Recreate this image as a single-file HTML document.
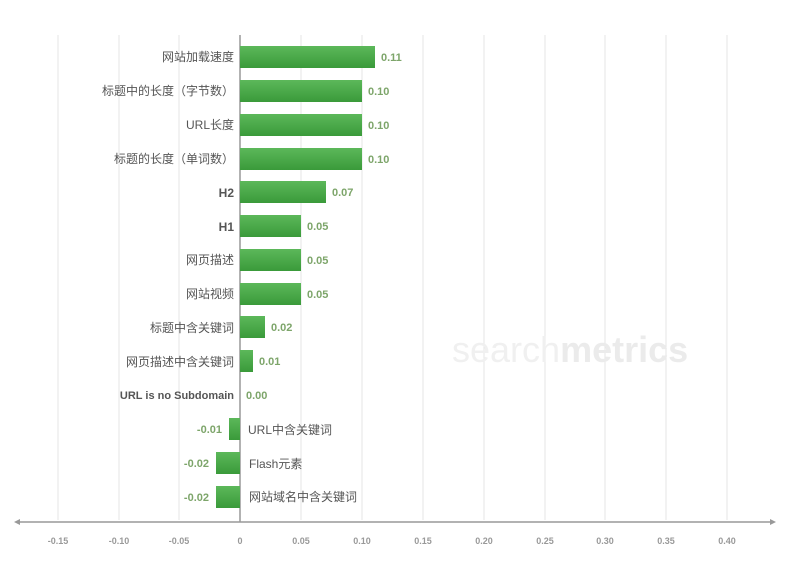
<!DOCTYPE html>
<html><head><meta charset="utf-8"><style>
body{margin:0;background:#fff;}
svg text{font-family:"Liberation Sans","Noto Sans CJK SC",sans-serif;}
</style></head><body>
<svg width="800" height="561" xmlns="http://www.w3.org/2000/svg">
<defs><linearGradient id="g" x1="0" y1="0" x2="0" y2="1"><stop offset="0" stop-color="#5cb85a"/><stop offset="1" stop-color="#3a9a3a"/></linearGradient></defs>
<g stroke="#e4e4e4" stroke-width="1">
<line x1="58" y1="35" x2="58" y2="520"/><line x1="119" y1="35" x2="119" y2="520"/><line x1="179" y1="35" x2="179" y2="520"/>
<line x1="301" y1="35" x2="301" y2="520"/><line x1="362" y1="35" x2="362" y2="520"/><line x1="423" y1="35" x2="423" y2="520"/>
<line x1="484" y1="35" x2="484" y2="520"/><line x1="545" y1="35" x2="545" y2="520"/><line x1="605" y1="35" x2="605" y2="520"/>
<line x1="666" y1="35" x2="666" y2="520"/><line x1="727" y1="35" x2="727" y2="520"/>
</g>
<text x="452" y="362" font-size="36" fill="#f0f0f0">search<tspan fill="#ebebeb" font-weight="bold">metrics</tspan></text>
<line x1="240" y1="35" x2="240" y2="522" stroke="#999" stroke-width="1.5"/>
<line x1="17" y1="522" x2="773" y2="522" stroke="#999" stroke-width="1.5"/>
<polygon points="14,522 20,519 20,525" fill="#999"/><polygon points="776,522 770,519 770,525" fill="#999"/>
<g fill="url(#g)">
<rect x="240" y="46" width="135" height="22"/>
<rect x="240" y="80" width="122" height="22"/>
<rect x="240" y="114" width="122" height="22"/>
<rect x="240" y="148" width="122" height="22"/>
<rect x="240" y="181" width="86" height="22"/>
<rect x="240" y="215" width="61" height="22"/>
<rect x="240" y="249" width="61" height="22"/>
<rect x="240" y="283" width="61" height="22"/>
<rect x="240" y="316" width="25" height="22"/>
<rect x="240" y="350" width="13" height="22"/>
<rect x="229" y="418" width="11" height="22"/>
<rect x="216" y="452" width="24" height="22"/>
<rect x="216" y="486" width="24" height="22"/>
</g>
<g font-size="11" fill="#7da56a" font-weight="bold">
<text x="381" y="61">0.11</text><text x="368" y="95">0.10</text><text x="368" y="129">0.10</text><text x="368" y="163">0.10</text>
<text x="332" y="196">0.07</text><text x="307" y="230">0.05</text><text x="307" y="264">0.05</text><text x="307" y="298">0.05</text>
<text x="271" y="331">0.02</text><text x="259" y="365">0.01</text><text x="246" y="399">0.00</text>
<g text-anchor="end"><text x="222" y="433">-0.01</text><text x="209" y="467">-0.02</text><text x="209" y="501">-0.02</text></g>
</g>
<g font-size="12" fill="#555" text-anchor="end">
<text x="234" y="61">网站加载速度</text><text x="234" y="95">标题中的长度（字节数）</text><text x="234" y="129">URL长度</text>
<text x="234" y="163">标题的长度（单词数）</text><text x="234" y="197" font-weight="bold">H2</text><text x="234" y="231" font-weight="bold">H1</text>
<text x="234" y="264">网页描述</text><text x="234" y="298">网站视频</text><text x="234" y="332">标题中含关键词</text>
<text x="234" y="366">网页描述中含关键词</text><text x="234" y="399" font-weight="bold" font-size="11">URL is no Subdomain</text>
</g>
<g font-size="12" fill="#555">
<text x="248" y="434">URL中含关键词</text><text x="249" y="468">Flash元素</text><text x="249" y="501">网站域名中含关键词</text>
</g>
<g font-size="9" fill="#999" text-anchor="middle" font-weight="bold">
<text x="58" y="544">-0.15</text><text x="119" y="544">-0.10</text><text x="179" y="544">-0.05</text><text x="240" y="544">0</text>
<text x="301" y="544">0.05</text><text x="362" y="544">0.10</text><text x="423" y="544">0.15</text><text x="484" y="544">0.20</text>
<text x="545" y="544">0.25</text><text x="605" y="544">0.30</text><text x="666" y="544">0.35</text><text x="727" y="544">0.40</text>
</g>
</svg>
</body></html>
